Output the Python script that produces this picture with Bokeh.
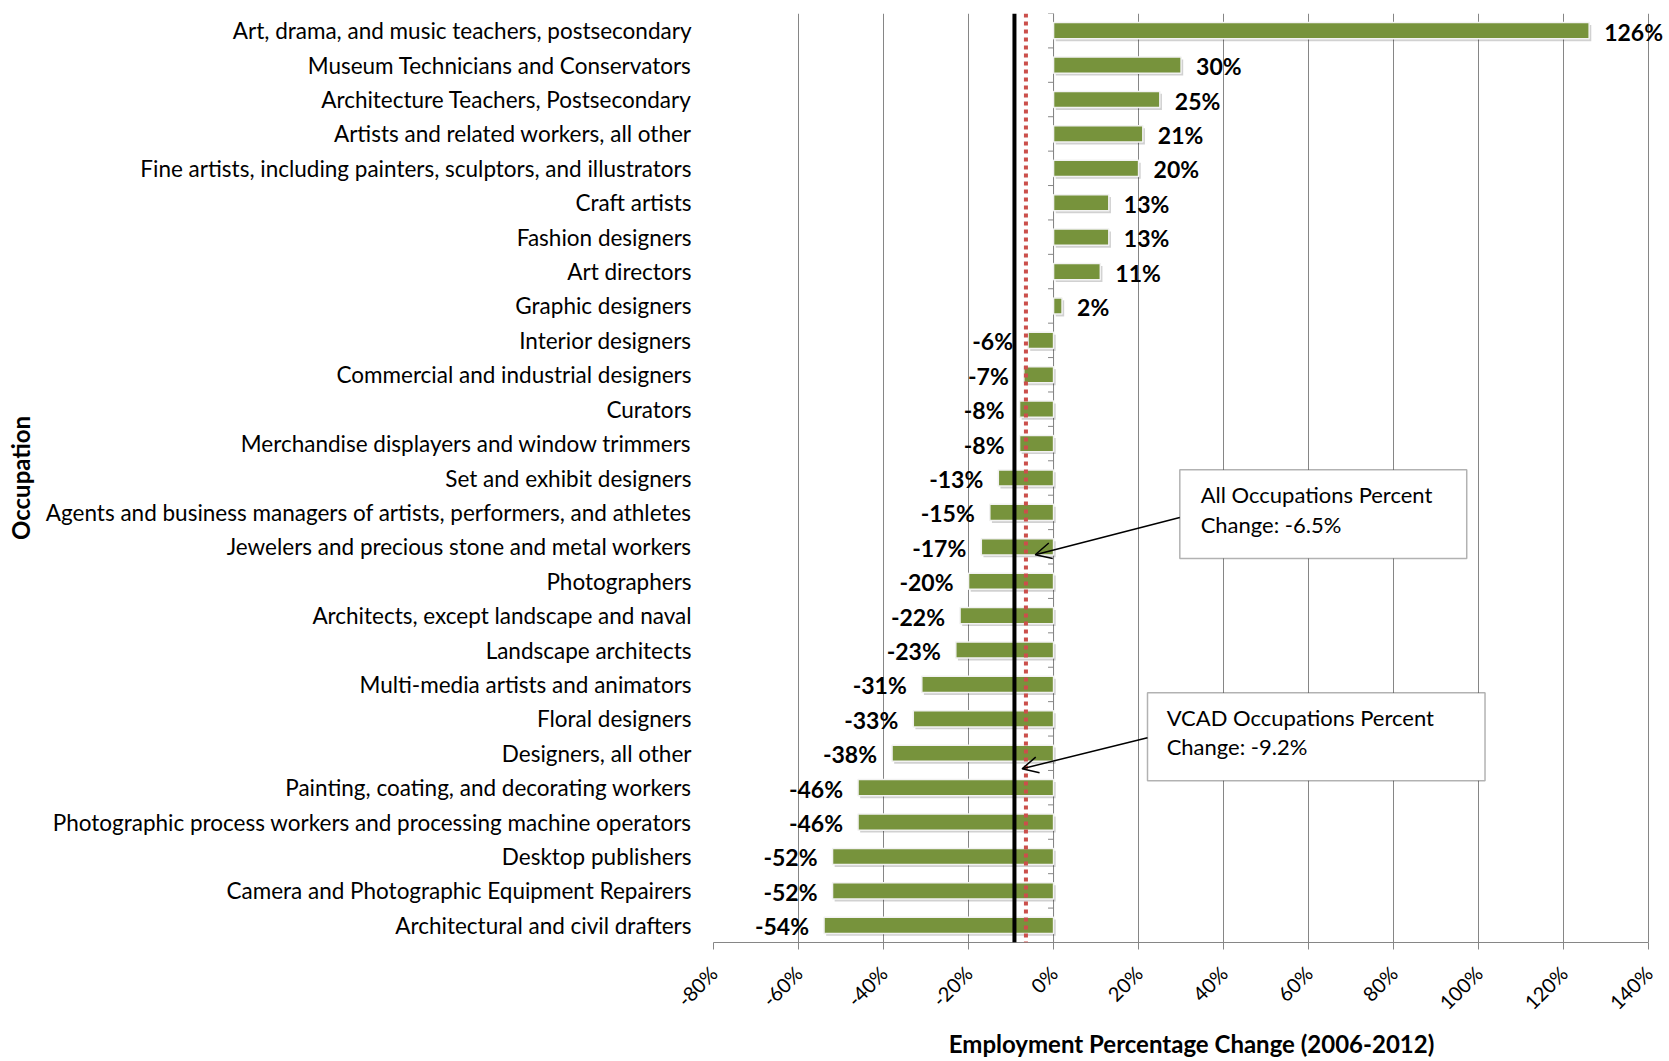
from bokeh.plotting import figure
from bokeh.models import (Range1d, FixedTicker, Span, BoxAnnotation, Label,
                          LabelSet, Arrow, OpenHead, ColumnDataSource)
from bokeh.core.properties import value
from bokeh.embed import file_html
from bokeh.resources import INLINE

# ---------------- data ----------------
occupations = [
    "Art, drama, and music teachers, postsecondary",
    "Museum Technicians and Conservators",
    "Architecture Teachers, Postsecondary",
    "Artists and related workers, all other",
    "Fine artists, including painters, sculptors, and illustrators",
    "Craft artists",
    "Fashion designers",
    "Art directors",
    "Graphic designers",
    "Interior designers",
    "Commercial and industrial designers",
    "Curators",
    "Merchandise displayers and window trimmers",
    "Set and exhibit designers",
    "Agents and business managers of artists, performers, and athletes",
    "Jewelers and precious stone and metal workers",
    "Photographers",
    "Architects, except landscape and naval",
    "Landscape architects",
    "Multi-media artists and animators",
    "Floral designers",
    "Designers, all other",
    "Painting, coating, and decorating workers",
    "Photographic process workers and processing machine operators",
    "Desktop publishers",
    "Camera and Photographic Equipment Repairers",
    "Architectural and civil drafters",
]
pct_change = [126, 30, 25, 21, 20, 13, 13, 11, 2, -6, -7, -8, -8, -13, -15,
              -17, -20, -22, -23, -31, -33, -38, -46, -46, -52, -52, -54]
x_ticks = [-80, -60, -40, -20, 0, 20, 40, 60, 80, 100, 120, 140]
x_tick_labels = [f"{t}%" for t in x_ticks]
all_occ_change = -6.5
vcad_change = -9.2
note_all = ["All Occupations Percent", "Change: -6.5%"]
note_vcad = ["VCAD Occupations Percent", "Change: -9.2%"]

FONT = "Lato"
GREEN = "#77933C"
GRAY = "#868686"

n = len(occupations)
ypos = [n - 1 - i for i in range(n)]
lefts = [min(0, v) for v in pct_change]
rights = [max(0, v) for v in pct_change]

# frame extends a little past the last tick so the "126%" label is not clipped
x_pad = 4.9
p = figure(width=1669, height=1061,
           x_range=Range1d(x_ticks[0], x_ticks[-1] + x_pad),
           y_range=Range1d(-0.5, n - 0.5),
           output_backend="svg", toolbar_location=None,
           min_border_left=713, min_border_right=0,
           min_border_top=13, min_border_bottom=119)
p.outline_line_color = None
p.background_fill_color = "white"

# grid
p.xgrid.ticker = FixedTicker(ticks=x_ticks)
p.xgrid.grid_line_color = GRAY
p.xgrid.grid_line_width = 1
p.ygrid.grid_line_color = None

# x axis
xa = p.xaxis[0]
xa.ticker = FixedTicker(ticks=x_ticks)
xa.bounds = (x_ticks[0], x_ticks[-1])
xa.major_label_overrides = {t: lab for t, lab in zip(x_ticks, x_tick_labels)}
xa.major_label_orientation = 0.785398
xa.major_label_text_font = FONT
xa.major_label_text_font_size = "20px"
xa.major_label_text_color = "black"
xa.major_label_standoff = 20
xa.axis_line_color = GRAY
xa.major_tick_line_color = GRAY
xa.major_tick_out = 7
xa.major_tick_in = 0
xa.minor_tick_line_color = None
xa.axis_label = "Employment Percentage Change (2006-2012)"
xa.axis_label_text_font = FONT
xa.axis_label_text_font_style = "bold"
xa.axis_label_text_font_size = "24px"
xa.axis_label_text_color = "black"
xa.axis_label_standoff = 4

# y axis
ya = p.yaxis[0]
ya.ticker = FixedTicker(ticks=ypos)
ya.major_label_overrides = {y: name for y, name in zip(ypos, occupations)}
ya.major_label_text_font = FONT
ya.major_label_text_font_size = "22.5px"
ya.major_label_text_color = "black"
ya.major_label_standoff = 16
ya.major_tick_line_color = None
ya.minor_tick_line_color = None
ya.axis_line_color = None
ya.axis_label = "Occupation"
ya.axis_label_text_font = FONT
ya.axis_label_text_font_style = "bold"
ya.axis_label_text_font_size = "24px"
ya.axis_label_text_color = "black"
ya.axis_label_standoff = 8

# category axis drawn at 0 with small boundary ticks
p.add_layout(Span(location=0, dimension="height", line_color=GRAY, line_width=1,
                  level="underlay"))
bounds = [y + 0.5 for y in range(-1, n)]
p.segment(x0=[-1.3] * len(bounds), x1=[0] * len(bounds), y0=bounds, y1=bounds,
          line_color=GRAY, line_width=1)

# bars with soft shadow
p.hbar(y=[y - 0.07 for y in ypos], left=[l + 0.5 for l in lefts],
       right=[r + 0.5 for r in rights], height=0.47,
       fill_color="#000000", fill_alpha=0.18, line_color=None)
p.hbar(y=ypos, left=lefts, right=rights, height=0.47,
       fill_color=GREEN, line_color="#F2F2F2", line_width=1.5)

# data labels
pos_src = ColumnDataSource(dict(
    x=[v for v in pct_change if v >= 0],
    y=[y for y, v in zip(ypos, pct_change) if v >= 0],
    t=[f"{v}%" for v in pct_change if v >= 0]))
neg_src = ColumnDataSource(dict(
    x=[v for v in pct_change if v < 0],
    y=[y for y, v in zip(ypos, pct_change) if v < 0],
    t=[f"{v}%" for v in pct_change if v < 0]))
p.add_layout(LabelSet(x="x", y="y", text="t", source=pos_src, x_offset=15,
                      y_offset=-1, text_align="left", text_baseline="middle",
                      text_font=value(FONT), text_font_style="bold",
                      text_font_size="23px", text_color="black"))
p.add_layout(LabelSet(x="x", y="y", text="t", source=neg_src, x_offset=-15,
                      y_offset=-1, text_align="right", text_baseline="middle",
                      text_font=value(FONT), text_font_style="bold",
                      text_font_size="23px", text_color="black"))

# reference lines
p.add_layout(Span(location=vcad_change, dimension="height", line_color="black",
                  line_width=4))
p.add_layout(Span(location=all_occ_change, dimension="height",
                  line_color="#CB4F4B", line_width=4, line_dash="4 4"))

# callouts
def callout(left, right, top, bottom, text_x, lines, line_ys, a_start, a_end):
    p.add_layout(BoxAnnotation(left=left, right=right, top=top, bottom=bottom,
                               fill_color="white", fill_alpha=1.0,
                               line_color="black", line_width=1.5))
    for txt, ly in zip(lines, line_ys):
        p.add_layout(Label(x=text_x, y=ly, text=txt, text_font=FONT,
                           text_font_size="22px", text_color="black",
                           text_baseline="middle", text_align="left"))
    p.add_layout(Arrow(end=OpenHead(size=16, line_width=1.5, line_color="black"),
                       x_start=a_start[0], y_start=a_start[1],
                       x_end=a_end[0], y_end=a_end[1],
                       line_color="black", line_width=1.5))

callout(29.7, 97.2, 13.24, 10.66, 34.6, note_all, [12.52, 11.65],
        (29.7, 11.85), (-4.3, 10.77))
callout(22.1, 101.5, 6.76, 4.20, 26.6, note_vcad, [6.03, 5.19],
        (22.1, 5.45), (-7.4, 4.55))

open("out.html", "w").write(file_html(p, INLINE))
